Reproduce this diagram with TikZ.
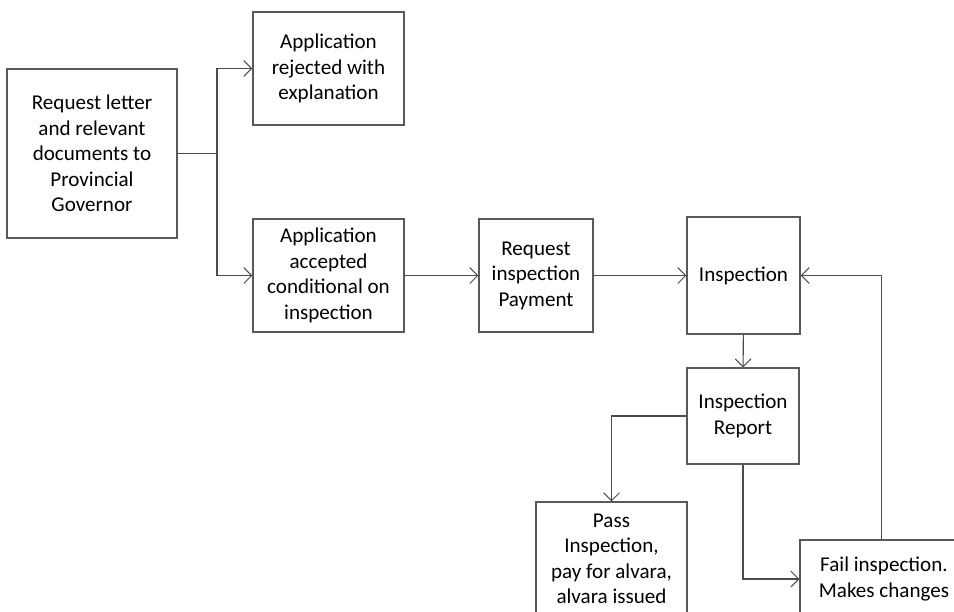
\documentclass[tikz,border=0pt]{standalone}
\usepackage{fontspec}
\setmainfont{Carlito}
\usetikzlibrary{arrows.meta,positioning}

\tikzset{
  stagebox/.style={draw=black!65,line width=0.6pt,fill=white,align=center,inner sep=2pt,
    font=\fontsize{12}{14.5}\selectfont},
  flow/.style={draw=black!70,line width=0.6pt,-{Straight Barb[length=4.5pt,width=9pt]}},
}

\begin{document}
\begin{tikzpicture}[x=0.02cm,y=-0.02cm]
  \useasboundingbox (0,0) rectangle (954,612);
  \clip (0,0) rectangle (954,612);
  % boxes
  \node[stagebox,minimum width=3.4cm,minimum height=3.38cm](request)at(92,153.5)
    {Request letter\\and relevant\\documents to\\Provincial\\Governor};
  \node[stagebox,minimum width=3.02cm,minimum height=2.26cm](rejected)at(328.5,68.5)
    {Application\\rejected with\\explanation};
  \node[stagebox,minimum width=3.02cm,minimum height=2.26cm](accepted)at(328.5,275.5)
    {Application\\accepted\\conditional on\\inspection};
  \node[stagebox,minimum width=2.28cm,minimum height=2.26cm](payment)at(536,275.5)
    {Request\\inspection\\Payment};
  \node[stagebox,minimum width=2.26cm,minimum height=2.34cm](inspection)at(743.5,275.5)
    {Inspection};
  \node[stagebox,minimum width=2.24cm,minimum height=1.92cm](report)at(743,416)
    {Inspection\\Report};
  \node[stagebox,minimum width=3.02cm,minimum height=2.28cm](pass)at(611.5,559)
    {Pass\\Inspection,\\pay for alvara,\\alvara issued};
  \node[stagebox,minimum width=3.36cm,minimum height=1.56cm](fail)at(884,579)
    {Fail inspection.\\Makes changes};
  % connectors
  \coordinate (split) at (217,153.5);
  \coordinate (back) at (881.5,0);
  \draw[flow] (request.east) -- (split) |- (rejected.west);
  \draw[flow] (split) |- (accepted.west);
  \draw[flow] (accepted) -- (payment);
  \draw[flow] (payment) -- (inspection);
  \draw[flow] (inspection) -- (report);
  \draw[flow] (report.west) -| (pass.north);
  \draw[flow] (report.south) |- (fail.west);
  \draw[flow] (fail.north -| back) |- (inspection.east);
\end{tikzpicture}
\end{document}
